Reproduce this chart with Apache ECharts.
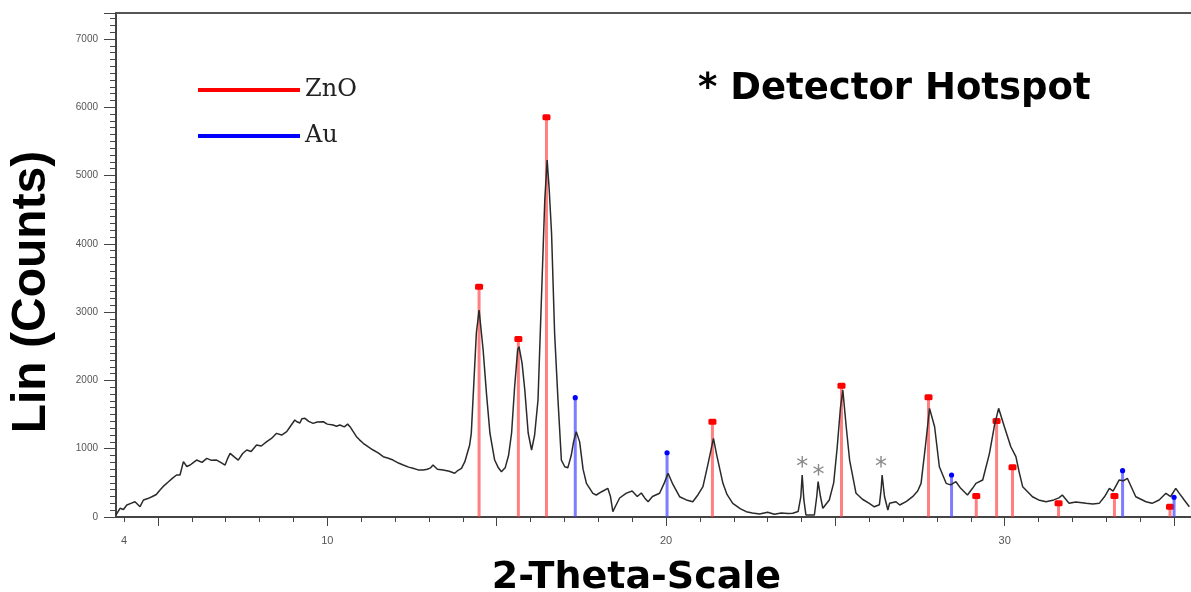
<!DOCTYPE html>
<html>
<head>
<meta charset="utf-8">
<title>XRD ZnO / Au</title>
<script src="https://cdn.jsdelivr.net/npm/echarts@6/dist/echarts.min.js"></script>
<style>
  html, body { margin: 0; padding: 0; background: #fff; }
  #chart { width: 1191px; height: 592px; }
</style>
</head>
<body>
<div id="chart"></div>
<script>
// measured pattern, 2-theta vs counts
const theta = [
  3.76, 3.88, 3.98, 4.08, 4.2, 4.32, 4.47, 4.57, 4.7, 4.82, 4.95, 5.06, 5.18, 5.31, 5.43, 5.55, 5.65, 5.75, 5.85, 5.95,
  6.05, 6.14, 6.3, 6.44, 6.58, 6.73, 6.85, 6.98, 7.05, 7.13, 7.25, 7.37, 7.5, 7.62, 7.75, 7.91, 8.05, 8.21, 8.35, 8.5,
  8.65, 8.8, 8.9, 9.04, 9.1, 9.19, 9.25, 9.34, 9.45, 9.58, 9.7, 9.88, 10.0, 10.17, 10.27, 10.37, 10.5, 10.6, 10.67, 10.75,
  10.86, 10.95, 11.06, 11.2, 11.35, 11.5, 11.65, 11.8, 11.94, 12.1, 12.24, 12.4, 12.53, 12.68, 12.83, 12.95, 13.05, 13.12, 13.25, 13.42,
  13.6, 13.76, 13.85, 13.96, 14.06, 14.11, 14.2, 14.25, 14.3, 14.4, 14.48, 14.6, 14.7, 14.8, 14.94, 15.05, 15.14, 15.25, 15.35, 15.44,
  15.53, 15.62, 15.66, 15.75, 15.83, 15.93, 16.03, 16.12, 16.22, 16.32, 16.42, 16.49, 16.55, 16.62, 16.71, 16.81, 16.91, 17.01, 17.1, 17.2,
  17.27, 17.35, 17.45, 17.55, 17.65, 17.84, 17.94, 18.1, 18.28, 18.36, 18.43, 18.5, 18.63, 18.83, 19.0, 19.15, 19.27, 19.37, 19.47, 19.6,
  19.81, 19.95, 20.06, 20.2, 20.4, 20.6, 20.79, 20.95, 21.09, 21.25, 21.4, 21.5, 21.68, 21.8, 21.97, 22.2, 22.37, 22.55, 22.76, 23.0,
  23.2, 23.4, 23.6, 23.74, 23.9, 23.98, 24.02, 24.07, 24.13, 24.38, 24.45, 24.49, 24.56, 24.63, 24.82, 24.95, 25.05, 25.15, 25.22, 25.32,
  25.42, 25.61, 25.8, 26.0, 26.15, 26.3, 26.35, 26.38, 26.45, 26.55, 26.6, 26.79, 26.9, 27.1, 27.28, 27.43, 27.53, 27.65, 27.78, 27.93,
  28.07, 28.27, 28.4, 28.56, 28.7, 28.9, 29.05, 29.15, 29.35, 29.55, 29.7, 29.82, 29.99, 30.18, 30.33, 30.43, 30.53, 30.82, 31.0, 31.22,
  31.45, 31.6, 31.7, 31.9, 32.1, 32.4, 32.6, 32.79, 32.95, 33.09, 33.2, 33.38, 33.5, 33.62, 33.87, 34.17, 34.35, 34.56, 34.76, 34.9,
  35.05, 35.15, 35.3, 35.45
]
const counts = [
  30, 127, 110, 176, 200, 224, 151, 249, 270, 297, 330, 395, 460, 517, 570, 615, 615, 810, 740, 761,
  800, 834, 800, 859, 830, 834, 800, 761, 850, 932, 880, 834, 930, 981, 960, 1054, 1040, 1103, 1150, 1225,
  1200, 1249, 1322, 1420, 1395, 1376, 1440, 1445, 1400, 1371, 1390, 1395, 1360, 1347, 1330, 1347, 1320, 1360, 1322, 1260,
  1176, 1130, 1079, 1030, 981, 940, 883, 860, 834, 790, 761, 730, 713, 690, 688, 700, 720, 761, 700, 688,
  670, 640, 680, 713, 810, 834, 1050, 1225, 1713, 2694, 3030, 2445, 1800, 1230, 834, 720, 663, 720, 900, 1230,
  1908, 2450, 2493, 2250, 1859, 1230, 981, 1200, 1713, 3177, 4641, 5226, 4800, 4158, 2694, 1713, 834, 736, 720, 900,
  1100, 1249, 1100, 700, 493, 347, 322, 370, 420, 300, 78, 150, 278, 350, 380, 300, 351, 280, 224, 300,
  347, 500, 640, 480, 297, 250, 224, 330, 444, 800, 1152, 900, 493, 330, 200, 120, 78, 60, 44, 70,
  40, 60, 50, 54, 80, 300, 615, 250, 29, 29, 300, 517, 300, 127, 249, 500, 1000, 1600, 1859, 1322,
  834, 347, 260, 200, 150, 180, 400, 615, 300, 102, 200, 224, 176, 230, 297, 380, 493, 1000, 1591, 1322,
  736, 493, 470, 517, 420, 322, 420, 493, 542, 932, 1350, 1591, 1322, 1029, 883, 650, 444, 297, 250, 224,
  250, 280, 322, 200, 220, 200, 190, 200, 300, 420, 380, 542, 530, 567, 297, 224, 200, 249, 347, 300,
  420, 350, 249, 151
]

// reference lines
const znoTheta = [14.48, 15.64, 16.47, 21.37, 25.18, 27.75, 29.16, 29.76, 30.23, 31.59, 33.24, 34.88]
const znoCounts = [3372, 2606, 5852, 1396, 1922, 1752, 307, 1405, 727, 200, 307, 151]
const auTheta = [17.32, 20.03, 28.43, 33.48, 35.0]
const auCounts = [1747, 941, 615, 678, 288]

// detector hotspot marks
const hotTheta = [24.02, 24.5, 26.35]
const hotCounts = [805, 688, 805]

const xLabels = [4, 10, 20, 30]
const xMinorTicks = [4, 5, 6, 7, 8, 9, 10, 11, 12, 13, 14, 15, 16, 17, 18, 19, 20, 21, 22, 23, 24, 25, 26, 27, 28, 29, 30, 31, 32, 33, 34, 35]
const xMajorTicks = [5, 10, 15, 20, 25, 30, 35]

const pair = (xs, ys) => xs.map((x, i) => [x, ys[i]])

function stickRenderer(lineColor, markColor, square) {
  return function(params, api) {
    const top = api.coord([api.value(0), api.value(1)])
    const base = api.coord([api.value(0), 0])
    const mark = square
      ? { type: 'rect', shape: { x: top[0] - 4, y: top[1] - 3, width: 8, height: 6, r: 1.5 }, style: { fill: markColor } }
      : { type: 'circle', shape: { cx: top[0], cy: top[1], r: 2.6 }, style: { fill: markColor } }
    return {
      type: 'group',
      children: [
        { type: 'rect', shape: { x: top[0] - 1.5, y: top[1], width: 3, height: base[1] - top[1] }, style: { fill: lineColor } },
        mark
      ]
    }
  }
}

const xMin = 3.76
const xMax = 35.5

const chart = echarts.init(document.getElementById('chart'))
chart.setOption({
  animation: false,
  backgroundColor: '#fff',
  title: {
    text: '* Detector Hotspot',
    left: 693,
    top: 66,
    textStyle: { fontFamily: 'DejaVu Sans', fontWeight: 'bold', fontSize: 37, color: '#000' }
  },
  legend: {
    orient: 'vertical',
    left: 193,
    top: 73,
    itemWidth: 102,
    itemHeight: 4,
    itemGap: 22,
    textStyle: { fontFamily: 'DejaVu Serif', fontSize: 24, color: '#222', lineHeight: 24 },
    data: [
      { name: 'ZnO', icon: 'rect', itemStyle: { color: '#ff0000' } },
      { name: 'Au', icon: 'rect', itemStyle: { color: '#0000ff' } }
    ]
  },
  grid: { left: 116, right: 0, top: 13, bottom: 75, outerBoundsMode: 'none' },
  xAxis: [
    {
      type: 'value',
      min: xMin,
      max: xMax,
      name: '2-Theta-Scale',
      nameLocation: 'middle',
      nameGap: 42,
      nameTextStyle: { fontFamily: 'DejaVu Sans', fontWeight: 'bold', fontSize: 38, color: '#000', padding: [0, 34, 0, 0] },
      axisLine: { show: true, onZero: false, lineStyle: { color: '#444', width: 2 } },
      axisTick: { show: true, customValues: xMinorTicks, length: 5, lineStyle: { color: '#444' } },
      axisLabel: { customValues: xLabels, margin: 18, fontSize: 11, color: '#555', fontFamily: 'Liberation Sans' },
      splitLine: { show: false }
    },
    {
      type: 'value',
      min: xMin,
      max: xMax,
      position: 'bottom',
      axisLine: { show: false },
      axisTick: { show: true, customValues: xMajorTicks, length: 9, lineStyle: { color: '#444' } },
      axisLabel: { show: false },
      splitLine: { show: false }
    },
    {
      type: 'value',
      min: xMin,
      max: xMax,
      position: 'top',
      axisLine: { show: true, lineStyle: { color: '#555', width: 2 } },
      axisTick: { show: false },
      axisLabel: { show: false },
      splitLine: { show: false }
    }
  ],
  yAxis: {
    type: 'value',
    min: 0,
    max: 7380,
    interval: 1000,
    name: 'Lin (Counts)',
    nameLocation: 'middle',
    nameGap: 60,
    nameTextStyle: { fontFamily: 'Liberation Sans', fontWeight: 'bold', fontSize: 48, color: '#000', padding: [0, 54, 0, 0] },
    axisLine: { show: true, lineStyle: { color: '#444', width: 2 } },
    axisTick: { show: true, length: 12, lineStyle: { color: '#444' } },
    minorTick: { show: true, splitNumber: 10, length: 6, lineStyle: { color: '#444' } },
    axisLabel: {
      margin: 18,
      fontSize: 10,
      color: '#555',
      fontFamily: 'Liberation Sans',
      showMaxLabel: false,
      formatter: v => String(v)
    },
    splitLine: { show: false }
  },
  series: [
    {
      name: 'pattern',
      type: 'line',
      data: pair(theta, counts),
      symbol: 'none',
      lineStyle: { color: '#2a2a2a', width: 1.5 },
      z: 3
    },
    {
      name: 'ZnO',
      type: 'custom',
      data: pair(znoTheta, znoCounts),
      itemStyle: { color: '#ff0000' },
      renderItem: stickRenderer('rgba(255,60,60,0.65)', '#ff0000', true),
      z: 2
    },
    {
      name: 'Au',
      type: 'custom',
      data: pair(auTheta, auCounts),
      itemStyle: { color: '#0000ff' },
      renderItem: stickRenderer('rgba(70,70,255,0.7)', '#0000ff', false),
      z: 2
    },
    {
      name: 'hotspot',
      type: 'scatter',
      data: pair(hotTheta, hotCounts),
      symbolSize: 1,
      itemStyle: { color: 'rgba(0,0,0,0)' },
      label: {
        show: true,
        position: 'inside',
        formatter: '*',
        fontSize: 24,
        fontFamily: 'DejaVu Sans',
        color: '#6a6a6a',
        offset: [0, 6]
      },
      z: 4
    }
  ]
})
</script>
</body>
</html>
